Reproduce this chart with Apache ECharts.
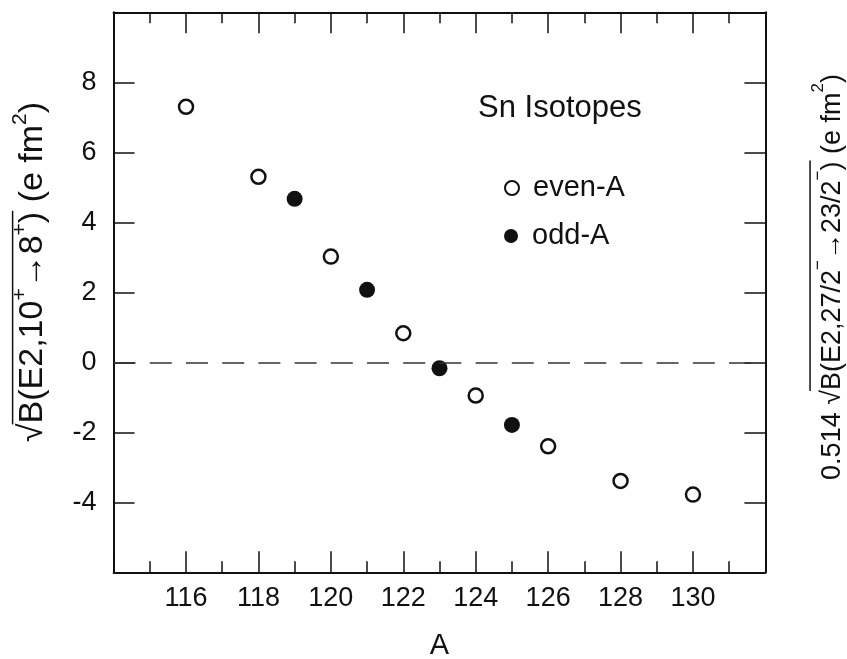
<!DOCTYPE html>
<html>
<head>
<meta charset="utf-8">
<script src="https://cdn.jsdelivr.net/npm/echarts@6/dist/echarts.min.js"></script>
<style>
  html, body { margin: 0; padding: 0; background: #fff; }
  #chart { width: 847px; height: 659px; }
</style>
</head>
<body>
<div id="chart"></div>
<script>
// Mass numbers and reduced matrix elements for the Sn isotope chain
const evenA = [116, 118, 120, 122, 124, 126, 128, 130];
const evenValues = [7.30, 5.30, 3.02, 0.83, -0.95, -2.40, -3.39, -3.78];
const oddA = [119, 121, 123, 125];
const oddValues = [4.67, 2.07, -0.17, -1.79];

// Axis ranges
const xRange = [114, 132];
const yRange = [-6, 10];
const xStep = 2;
const yStep = 2;

const FONT = '"Liberation Sans", Arial, Helvetica, sans-serif';
const INK = '#111';

const evenPoints = evenA.map((a, i) => [a, evenValues[i]]);
const oddPoints = oddA.map((a, i) => [a, oddValues[i]]);

// Builds a rotated axis title with superscripts and a radical overline
function radicalTitle(cx, cy, runs, size, supRise, overRise) {
  const ctx = document.createElement('canvas').getContext('2d');
  const pieces = [];
  let x = 0, overStart = null, overEnd = null;
  runs.forEach(([text, kind]) => {
    const sup = kind.indexOf('s') >= 0;
    const over = kind.indexOf('o') >= 0;
    const fs = sup ? Math.round(size * 0.62) : size;
    const font = fs + 'px ' + FONT;
    ctx.font = font;
    const w = ctx.measureText(text).width;
    if (over) {
      if (overStart === null) overStart = x;
      overEnd = x + w;
    }
    pieces.push({ text, font, x, y: sup ? -size * supRise : 0 });
    x += w;
  });
  const half = x / 2;
  const children = pieces.map(p => ({
    type: 'text',
    x: p.x - half,
    y: p.y,
    style: {
      text: p.text, font: p.font, fill: INK,
      textAlign: 'left', align: 'left',
      textVerticalAlign: 'middle', verticalAlign: 'middle'
    }
  }));
  if (overStart !== null) {
    const oy = -size * overRise;
    children.push({
      type: 'line',
      shape: { x1: overStart - half - 1, y1: oy, x2: overEnd - half + 1, y2: oy },
      style: { stroke: INK, lineWidth: 1.5 }
    });
  }
  return { type: 'group', x: cx, y: cy, rotation: Math.PI / 2, children };
}

const leftTitle = radicalTitle(33, 272, [
  ['\u221A', 'n'], ['B(E2,10', 'o'], ['+', 'so'], ['\u21928', 'o'], ['+', 'so'], [')', 'o'],
  [' (e fm', 'n'], ['2', 's'], [')', 'n']
], 34, 0.38, 0.6);

const rightTitle = radicalTitle(833, 277, [
  ['0.514 ', 'n'], ['\u221A', 'n'], ['B(E2,27/2', 'o'], ['\u2212', 'so'], ['\u219223/2', 'o'],
  ['\u2212', 'so'], [')', 'o'], [' (e fm', 'n'], ['2', 's'], [')', 'n']
], 27, 0.55, 0.85);

const axisLine = { show: true, onZero: false, lineStyle: { color: INK, width: 2 } };
const tickStyle = { color: INK, width: 1.5 };

const chart = echarts.init(document.getElementById('chart'), null, { renderer: 'canvas' });

chart.setOption({
  animation: false,
  backgroundColor: '#fff',
  textStyle: { fontFamily: FONT },
  grid: {
    left: 113.6, right: 81.6, top: 12.3, bottom: 86.7,
    containLabel: false, outerBoundsMode: 'none'
  },
  title: {
    text: 'Sn Isotopes',
    left: 473, top: 88,
    textStyle: { fontFamily: FONT, fontSize: 31, fontWeight: 'normal', color: INK }
  },
  legend: [
    {
      data: ['even-A'], orient: 'vertical', left: 499, top: 167,
      itemWidth: 14, itemHeight: 14,
      textStyle: { fontFamily: FONT, fontSize: 29, color: INK, lineHeight: 32, padding: [0, 0, 0, 9] }
    },
    {
      data: ['odd-A'], orient: 'vertical', left: 499, top: 215,
      itemWidth: 14, itemHeight: 14,
      textStyle: { fontFamily: FONT, fontSize: 29, color: INK, lineHeight: 32, padding: [0, 0, 0, 9] }
    }
  ],
  xAxis: [
    {
      type: 'value', position: 'bottom',
      min: xRange[0], max: xRange[1], interval: xStep,
      axisLine,
      axisTick: { show: true, inside: true, length: 21, lineStyle: tickStyle },
      minorTick: { show: true, splitNumber: 2, length: 11, lineStyle: tickStyle },
      splitLine: { show: false },
      axisLabel: {
        showMinLabel: false, showMaxLabel: false,
        fontFamily: FONT, fontSize: 27, color: INK, margin: 13
      },
      name: 'A', nameLocation: 'middle', nameGap: 59,
      nameTextStyle: { fontFamily: FONT, fontSize: 29, color: INK }
    },
    {
      type: 'value', position: 'top',
      min: xRange[0], max: xRange[1], interval: xStep,
      axisLine,
      axisTick: { show: true, inside: true, length: 21, lineStyle: tickStyle },
      minorTick: { show: true, splitNumber: 2, length: 11, lineStyle: tickStyle },
      splitLine: { show: false },
      axisLabel: { show: false }
    }
  ],
  yAxis: [
    {
      type: 'value', position: 'left',
      min: yRange[0], max: yRange[1], interval: yStep,
      axisLine,
      axisTick: { show: true, inside: true, length: 21, lineStyle: tickStyle },
      splitLine: { show: false },
      axisLabel: {
        showMinLabel: false, showMaxLabel: false,
        fontFamily: FONT, fontSize: 27, color: INK, margin: 17
      }
    },
    {
      type: 'value', position: 'right',
      min: yRange[0], max: yRange[1], interval: yStep,
      axisLine,
      axisTick: { show: true, inside: true, length: 21, lineStyle: tickStyle },
      splitLine: { show: false },
      axisLabel: { show: false }
    }
  ],
  series: [
    {
      name: 'even-A', type: 'scatter',
      xAxisIndex: 0, yAxisIndex: 0,
      data: evenPoints,
      symbol: 'circle', symbolSize: 14,
      itemStyle: { color: '#fff', borderColor: INK, borderWidth: 2.5, opacity: 1 },
      markLine: {
        silent: true, symbol: 'none',
        label: { show: false },
        lineStyle: { color: '#333', width: 1.5, type: [22, 14.2] },
        data: [{ yAxis: 0 }]
      },
      z: 3
    },
    {
      name: 'odd-A', type: 'scatter',
      xAxisIndex: 0, yAxisIndex: 0,
      data: oddPoints,
      symbol: 'circle', symbolSize: 16,
      itemStyle: { color: INK, borderColor: INK, borderWidth: 0, opacity: 1 },
      z: 3
    }
  ],
  graphic: [leftTitle, rightTitle]
});
</script>
</body>
</html>
